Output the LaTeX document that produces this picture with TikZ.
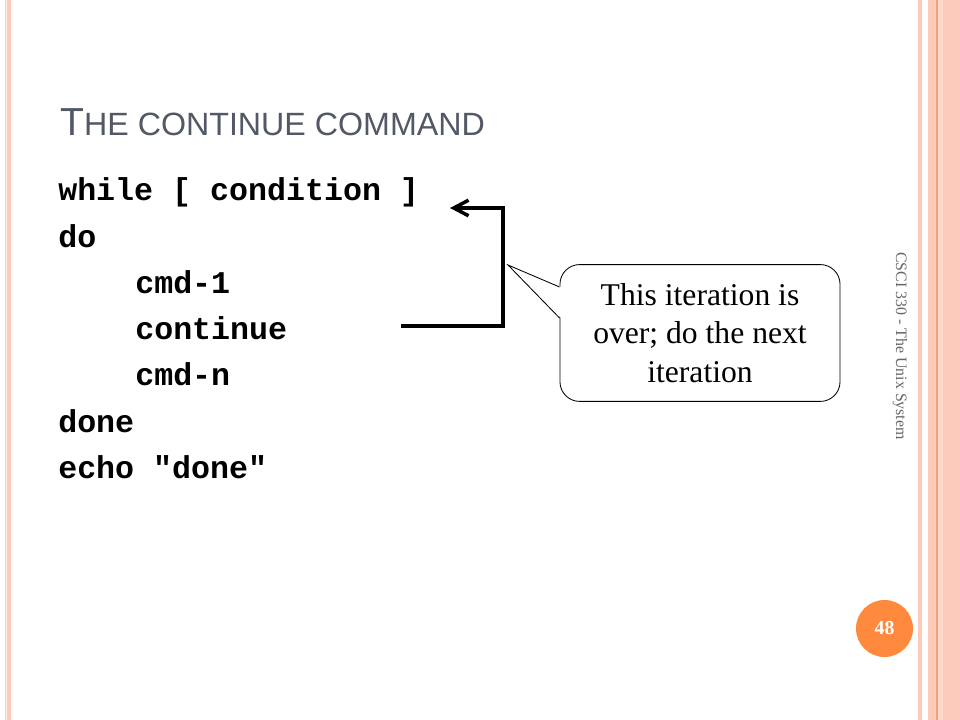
\documentclass[tikz,border=0pt]{standalone}
\usepackage{fontspec}
\setmainfont{Liberation Serif}
\setmonofont{Liberation Mono}
\newfontfamily\titlesans{Liberation Sans}
\usetikzlibrary{arrows.meta}

\definecolor{stripepink}{HTML}{FCCBBB}
\definecolor{stripeline}{HTML}{F2A276}
\definecolor{titlegray}{HTML}{525865}
\definecolor{pageorange}{HTML}{FF8A3D}

\newcommand\codefont{\ttfamily\bfseries\fontsize{22.5}{26}\selectfont}

\tikzset{
  code/.style={anchor=base west,inner sep=0pt,font=\codefont},
  loopline/.style={line width=2.5pt,-{Straight Barb[length=3.7mm,width=3.9mm]}},
  notebox/.style={draw,line width=0.6pt,rounded corners=14pt,fill=white,
    minimum width=7cm,minimum height=3.42cm,align=center,
    font=\fontsize{22.5}{27.4}\selectfont}
}

\begin{document}
\begin{tikzpicture}[x=0.025cm,y=-0.025cm]
\useasboundingbox (0,0) rectangle (960,720);

% side stripes
\fill[stripepink] (5,0) rectangle (11,720);
\fill[white!70!stripepink] (6,0) rectangle (6.8,720);
\fill[stripepink] (918,0) rectangle (922,720);
\fill[stripepink] (928,0) rectangle (960,720);
\fill[stripeline] (936,0) rectangle (937.5,720);
\fill[white!25!stripepink] (937.5,0) rectangle (943,720);

% title
\node (title) at (60,136) [anchor=base west,inner sep=0pt,text=titlegray]
  {\titlesans\fontsize{27.8}{32}\selectfont T\fontsize{22.9}{28}\selectfont HE CONTINUE COMMAND};

% code lines
\node (while) at (58,201) [code]{while [ condition ]};
\node (do) at (58,248) [code]{do};
\node (cmdone) at (135,294) [code]{cmd-1};
\node (cont) at (135,340) [code]{continue};
\node (cmdn) at (135,386) [code]{cmd-n};
\node (done) at (58,433) [code]{done};
\node (echo) at (58,479) [code]{echo "done"};

% loop back arrow
\coordinate (contend) at (401,326);
\coordinate (whileend) at (450,208);
\draw[loopline] (contend) -- (503,326) -- (503,208) -- (whileend);

% callout
\node (note) at (700,333) [notebox]{This iteration is\\over; do the next\\iteration};
\coordinate (tip) at (508,265);
\fill[white] (561,287) -- (tip) -- (561,318) -- cycle;
\draw[line width=0.6pt] (note.west |- 0,287) -- (tip) -- (note.west |- 0,318);

% footer
\node (course) at (900,346) [rotate=-90,inner sep=0pt,text=black!60,
  font=\fontsize{11.3}{13}\selectfont]{CSCI 330 - The Unix System};
\node (pagenum) at (884.5,628.5) [circle,fill=pageorange,minimum size=1.425cm,
  inner sep=0pt,text=white,font=\bfseries\fontsize{14}{16}\selectfont]{48};

\end{tikzpicture}
\end{document}
